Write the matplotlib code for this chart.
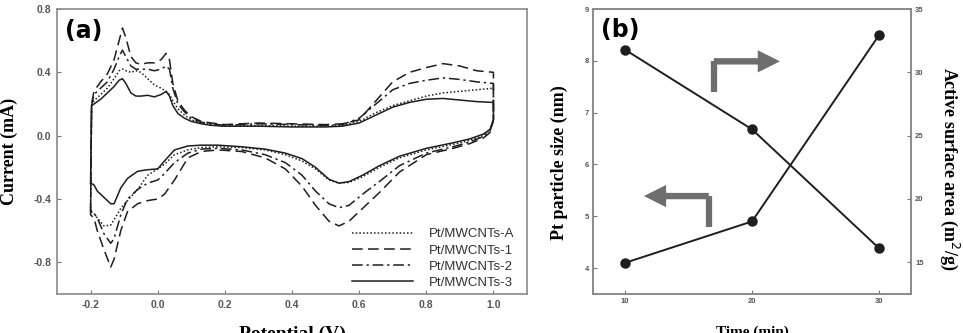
import matplotlib
matplotlib.use("Agg")
import matplotlib.pyplot as plt
import numpy as np

plt.rcParams['axes.unicode_minus'] = False

# ---- panel (a): cyclic voltammograms (anodic sweep then cathodic sweep) ----
x_up = [-0.2, -0.197, -0.19, -0.17, -0.15, -0.13, -0.115, -0.105, -0.095, -0.08,
        -0.065, -0.05, -0.03, -0.01, 0.01, 0.025, 0.035, 0.045, 0.06, 0.08,
        0.1, 0.13, 0.16, 0.2, 0.3, 0.4, 0.5, 0.55, 0.6, 0.65,
        0.7, 0.75, 0.8, 0.85, 0.9, 0.95, 1.0]
x_dn = [1.0, 1.0, 0.99, 0.97, 0.93, 0.88, 0.8, 0.72, 0.66, 0.61,
        0.57, 0.54, 0.51, 0.47, 0.43, 0.38, 0.32, 0.25, 0.18, 0.13,
        0.09, 0.05, 0.02, 0.0, -0.03, -0.06, -0.09, -0.11, -0.13, -0.14,
        -0.16, -0.18, -0.19, -0.2]

labels_a = ['Pt/MWCNTs-A', 'Pt/MWCNTs-1', 'Pt/MWCNTs-2', 'Pt/MWCNTs-3']

up_A = [-0.48, 0.18, 0.22, 0.26, 0.30, 0.36, 0.41, 0.42, 0.41, 0.40,
        0.41, 0.40, 0.36, 0.32, 0.30, 0.28, 0.26, 0.22, 0.17, 0.13,
        0.10, 0.08, 0.07, 0.06, 0.065, 0.06, 0.06, 0.065, 0.09, 0.145,
        0.19, 0.22, 0.25, 0.27, 0.28, 0.29, 0.30]
dn_A = [0.30, 0.10, 0.035, 0.0, -0.03, -0.055, -0.09, -0.14, -0.20, -0.26,
        -0.295, -0.30, -0.28, -0.21, -0.16, -0.12, -0.09, -0.075, -0.07, -0.075,
        -0.09, -0.12, -0.18, -0.21, -0.25, -0.34, -0.41, -0.46, -0.53, -0.565,
        -0.57, -0.52, -0.49, -0.48]

up_1 = [-0.50, 0.20, 0.28, 0.34, 0.39, 0.48, 0.60, 0.68, 0.62, 0.50,
        0.46, 0.45, 0.46, 0.46, 0.48, 0.52, 0.48, 0.33, 0.22, 0.16,
        0.12, 0.09, 0.08, 0.07, 0.08, 0.075, 0.07, 0.075, 0.10, 0.22,
        0.34, 0.40, 0.43, 0.455, 0.44, 0.41, 0.40]
dn_1 = [0.40, 0.10, 0.02, -0.015, -0.05, -0.08, -0.12, -0.23, -0.36, -0.46,
        -0.54, -0.57, -0.54, -0.44, -0.32, -0.21, -0.14, -0.10, -0.09, -0.10,
        -0.14, -0.28, -0.37, -0.40, -0.41, -0.43, -0.48, -0.60, -0.78, -0.83,
        -0.72, -0.60, -0.52, -0.50]

up_2 = [-0.47, 0.19, 0.26, 0.30, 0.34, 0.42, 0.50, 0.54, 0.50, 0.44,
        0.42, 0.42, 0.42, 0.41, 0.42, 0.44, 0.42, 0.30, 0.20, 0.15,
        0.11, 0.085, 0.075, 0.065, 0.075, 0.07, 0.065, 0.07, 0.11, 0.20,
        0.29, 0.33, 0.35, 0.365, 0.355, 0.34, 0.33]
dn_2 = [0.33, 0.10, 0.03, -0.005, -0.04, -0.07, -0.11, -0.19, -0.29, -0.37,
        -0.44, -0.455, -0.43, -0.35, -0.25, -0.17, -0.12, -0.09, -0.08, -0.085,
        -0.11, -0.17, -0.24, -0.28, -0.30, -0.34, -0.40, -0.50, -0.65, -0.68,
        -0.62, -0.52, -0.49, -0.47]

up_3 = [-0.30, 0.19, 0.20, 0.23, 0.27, 0.31, 0.35, 0.36, 0.33, 0.27,
        0.25, 0.25, 0.255, 0.245, 0.26, 0.28, 0.25, 0.19, 0.14, 0.11,
        0.09, 0.075, 0.065, 0.06, 0.06, 0.055, 0.055, 0.06, 0.08, 0.13,
        0.18, 0.21, 0.23, 0.235, 0.225, 0.215, 0.21]
dn_3 = [0.21, 0.10, 0.04, 0.01, -0.02, -0.045, -0.08, -0.13, -0.19, -0.25,
        -0.29, -0.30, -0.275, -0.20, -0.145, -0.11, -0.085, -0.07, -0.06, -0.06,
        -0.065, -0.09, -0.16, -0.21, -0.215, -0.225, -0.27, -0.33, -0.43, -0.43,
        -0.39, -0.35, -0.31, -0.30]

# ---- panel (b) ----
time_min = [10, 20, 30]
particle_size = [4.1, 4.9, 8.5]
surface_area = [31.8, 25.5, 16.1]

line_col = '#1e1e1e'
frame_col = '#8a8a8a'
tick_col = '#555555'
serif = 'Liberation Serif'
sans = 'Liberation Sans'


def style_axes(ax, size):
    for sp in ax.spines.values():
        sp.set_color(frame_col)
        sp.set_linewidth(1.2)
    ax.tick_params(direction='in', length=3, width=0.8, color='#777777',
                   labelcolor=tick_col, labelsize=size, pad=4)
    for lab in ax.get_xticklabels() + ax.get_yticklabels():
        lab.set_family(sans)
        lab.set_fontweight('bold')


fig = plt.figure(figsize=(9.63, 3.33), dpi=100)

# ---------------- (a) ----------------
ax = fig.add_axes([57 / 963, 39 / 333, 470 / 963, 285 / 333])
styles = [(0, (1, 1.4)), (0, (7, 3.5)), (0, (7, 2.5, 1.5, 2.5)), '-']
curves = [(up_A, dn_A), (up_1, dn_1), (up_2, dn_2), (up_3, dn_3)]
for (up, dn), ls, lab in zip(curves, styles, labels_a):
    xs = x_up + x_dn
    ys = up + dn
    ax.plot(xs, ys, color=line_col, lw=1.1, ls=ls, label=lab)

ax.set_xlim(-0.3, 1.1)
ax.set_ylim(-1.0, 0.8)
ax.set_xticks(np.arange(-0.2, 1.01, 0.2))
ax.set_xticklabels(['%.1f' % v for v in np.arange(-0.2, 1.01, 0.2)])
ax.set_yticks([-0.8, -0.4, 0.0, 0.4, 0.8])
ax.set_yticklabels(['-0.8', '-0.4', '0.0', '0.4', '0.8'])
style_axes(ax, 7.5)

ax.set_ylabel('Current (mA)', family=serif, fontweight='bold', fontsize=13)
ax.yaxis.set_label_coords(-0.084, 0.5)
ax.set_xlabel('Potential (V)', family=serif, fontweight='bold', fontsize=14, va='top')
ax.xaxis.set_label_coords(0.5, -0.112)
ax.text(0.018, 0.965, '(a)', transform=ax.transAxes, fontsize=17,
        fontweight='bold', ha='left', va='top')

leg = ax.legend(loc='lower right', bbox_to_anchor=(0.99, -0.01), frameon=False,
                prop={'family': sans, 'size': 9.5}, handlelength=4.6,
                handletextpad=1.2, labelspacing=0.3, borderaxespad=0.2)
for t in leg.get_texts():
    t.set_color('#333333')

# ---------------- (b) ----------------
bx = fig.add_axes([593 / 963, 39 / 333, 318 / 963, 285 / 333])
bx2 = bx.twinx()
bx.plot(time_min, particle_size, color=line_col, lw=1.4, marker='o', ms=6.5)
bx2.plot(time_min, surface_area, color=line_col, lw=1.4, marker='o', ms=6.5)

bx.set_xlim(7.5, 32.5)
bx.set_ylim(3.5, 9)
bx2.set_ylim(12.5, 35)
bx.set_xticks(time_min)
bx.set_yticks([4, 5, 6, 7, 8, 9])
bx2.set_yticks([15, 20, 25, 30, 35])
style_axes(bx, 5.5)
style_axes(bx2, 5.5)
bx.tick_params(pad=3)
bx2.tick_params(pad=3)

bx.set_ylabel('Pt particle size (nm)', family=serif, fontweight='bold', fontsize=13)
bx.yaxis.set_label_coords(-0.078, 0.46)
bx2.set_ylabel('Active surface area (m$^2$/g)', family=serif, fontweight='bold',
               fontsize=13, rotation=270, va='bottom')
bx2.yaxis.set_label_coords(1.085, 0.44)
bx.set_xlabel('Time (min)', family=serif, fontweight='bold', fontsize=11, va='top')
bx.xaxis.set_label_coords(0.5, -0.112)
bx.text(0.025, 0.97, '(b)', transform=bx.transAxes, fontsize=17,
        fontweight='bold', ha='left', va='top')

# gray L-shaped arrows pointing at the axis each curve belongs to
arrow_col = '#6e6e6e'
arrow_right = dict(bottom=(17.0, 7.40), corner=(17.0, 7.99), tip=(22.2, 7.99))
arrow_left = dict(bottom=(16.6, 4.80), corner=(16.6, 5.39), tip=(11.5, 5.39))
for arr in (arrow_right, arrow_left):
    bx.plot([arr['bottom'][0], arr['corner'][0]], [arr['bottom'][1], arr['corner'][1]],
            color=arrow_col, lw=4.5, solid_capstyle='butt', zorder=1)
    bx.annotate('', xy=arr['tip'], xytext=(arr['corner'][0], arr['corner'][1]),
                arrowprops=dict(arrowstyle='simple,head_length=0.8,head_width=0.8,tail_width=0.23',
                                color=arrow_col, lw=0, shrinkA=0, shrinkB=0,
                                mutation_scale=20), zorder=1)

fig.savefig('out.png', dpi=100)
